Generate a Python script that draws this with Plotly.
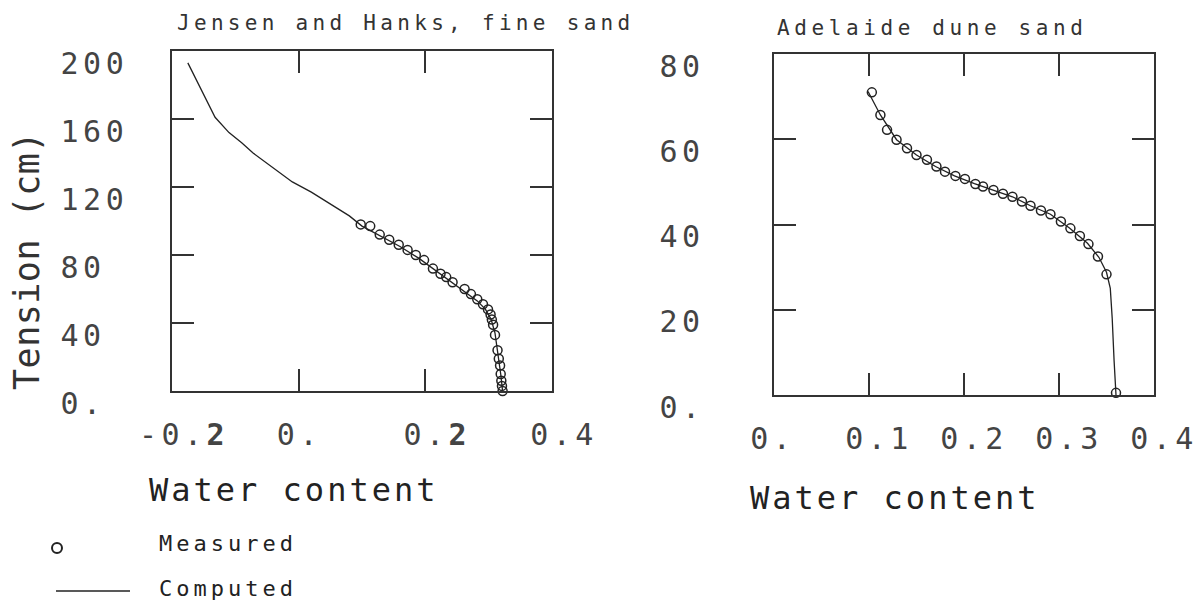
import plotly.graph_objects as go

# ---------------- data ----------------
# Jensen and Hanks, fine sand
jh_meas_theta = [0.098, 0.113, 0.128, 0.143, 0.158, 0.172, 0.185, 0.198, 0.212, 0.224,
                 0.233, 0.243, 0.262, 0.272, 0.282, 0.291, 0.299, 0.303, 0.305, 0.307,
                 0.310, 0.314, 0.316, 0.318, 0.319, 0.320, 0.321, 0.322]
jh_meas_h = [98, 97, 92, 89, 86, 83, 80, 77, 72, 69,
             67, 64, 60, 57, 54, 51, 48, 45, 42, 39,
             33, 24, 19, 15, 10, 6, 3, 0]
jh_comp_theta = [-0.175, -0.160, -0.145, -0.132, -0.110, -0.090, -0.072, -0.040, -0.010,
                 0.020, 0.050, 0.080, 0.100, 0.130, 0.160, 0.190, 0.220, 0.245, 0.265,
                 0.282, 0.295, 0.304, 0.310, 0.315, 0.319, 0.322]
jh_comp_h = [193, 182, 171, 161, 152, 146, 140, 131, 123,
             117, 110, 103, 97, 91, 85, 78, 70, 63, 58,
             53, 48, 42, 34, 22, 10, 0]

# Adelaide dune sand
ad_meas_theta = [0.103, 0.112, 0.119, 0.129, 0.140, 0.150, 0.161, 0.171, 0.180, 0.191,
                 0.201, 0.212, 0.220, 0.231, 0.241, 0.251, 0.261, 0.270, 0.281, 0.291,
                 0.302, 0.312, 0.322, 0.331, 0.341, 0.350, 0.360]
ad_meas_h = [71.0, 65.7, 62.2, 59.9, 57.9, 56.3, 55.2, 53.6, 52.4, 51.4,
             50.7, 49.5, 48.9, 48.1, 47.2, 46.5, 45.4, 44.4, 43.3, 42.4,
             40.7, 39.1, 37.3, 35.4, 32.5, 28.3, 0.5]
ad_comp_theta = [0.099, 0.112, 0.129, 0.150, 0.170, 0.190, 0.211, 0.231, 0.251, 0.270,
                 0.291, 0.311, 0.330, 0.342, 0.350, 0.354, 0.356, 0.358, 0.360]
ad_comp_h = [71.2, 65.7, 59.9, 56.3, 53.6, 51.4, 49.6, 48.1, 46.5, 44.4,
             42.4, 39.2, 35.6, 32.3, 28.8, 25.0, 18.0, 8.0, 0.0]

jh_xticks = [-0.2, 0.0, 0.2, 0.4]
jh_xlabels = ["-0.<b>2</b>", "0.\u00a0", "0.<b>2</b>", "0.4"]
jh_yticks = [0, 40, 80, 120, 160, 200]
jh_ylabels = ["0.\u00a0", "40\u00a0", "80\u00a0", "120", "160", "200"]
ad_xticks = [0.0, 0.1, 0.2, 0.3, 0.4]
ad_xlabels = ["0.\u00a0", "0.1", "0.2", "0.3", "0.4"]
ad_yticks = [0, 20, 40, 60, 80]
ad_ylabels = ["0.\u00a0", "20\u00a0", "40\u00a0", "60\u00a0", "80\u00a0"]

titles = ["Jensen and Hanks, fine sand", "Adelaide dune sand"]
xtitle = "Water content"
ytitle = "Tension (cm)"
legend_labels = ["Measured", "Computed"]

# ---------------- styling ----------------
W, H = 1204, 600
MONO = "DejaVu Sans Mono"
INK = "#222"


def sp(text, px):
    return '<span style="letter-spacing:%spx">%s</span>' % (px, text)


def px(x):
    return x / W


def py(y):
    return 1 - y / H


fig = go.Figure()

line_style = dict(color=INK, width=1.3)
marker_style = dict(symbol="circle-open", size=9, color=INK, line=dict(width=1.5, color=INK))

fig.add_trace(go.Scatter(x=jh_comp_theta, y=jh_comp_h, mode="lines", line=line_style,
                         xaxis="x", yaxis="y", showlegend=False, name="Computed"))
fig.add_trace(go.Scatter(x=jh_meas_theta, y=jh_meas_h, mode="markers", marker=marker_style,
                         xaxis="x", yaxis="y", showlegend=False, name="Measured", cliponaxis=False))
fig.add_trace(go.Scatter(x=ad_comp_theta, y=ad_comp_h, mode="lines", line=line_style,
                         xaxis="x2", yaxis="y2", showlegend=False, name="Computed"))
fig.add_trace(go.Scatter(x=ad_meas_theta, y=ad_meas_h, mode="markers", marker=marker_style,
                         xaxis="x2", yaxis="y2", showlegend=False, name="Measured", cliponaxis=False))

tickfont = dict(family=MONO, size=30, color="#444")
axis_common = dict(showline=True, linecolor="#333", linewidth=1.5, mirror="ticks",
                   ticks="inside", ticklen=22, tickwidth=1.5, tickcolor="#333",
                   showgrid=False, zeroline=False, tickfont=tickfont, automargin=False,
                   tickmode="array")

fig.update_layout(
    width=W, height=H,
    margin=dict(l=0, r=0, t=0, b=0),
    paper_bgcolor="white", plot_bgcolor="white",
    showlegend=False,
    xaxis=dict(axis_common, domain=[px(172), px(552)], range=[-0.2, 0.4], anchor="y",
               tickvals=jh_xticks, ticktext=[sp(t, 4.5) for t in jh_xlabels],
               ticklabelshift=12, ticklabelstandoff=16),
    yaxis=dict(axis_common, domain=[py(391), py(51)], range=[0, 200], anchor="x",
               tickvals=jh_yticks, ticktext=[sp(t, 4.5) for t in jh_ylabels],
               ticklabelshift=12, ticklabelstandoff=36),
    xaxis2=dict(axis_common, domain=[px(774), px(1154)], range=[0, 0.4], anchor="y2",
                tickvals=ad_xticks, ticktext=[sp(t, 4.5) for t in ad_xlabels],
                ticklabelshift=10, ticklabelstandoff=16),
    yaxis2=dict(axis_common, domain=[py(395), py(54)], range=[0, 80], anchor="x2",
                tickvals=ad_yticks, ticktext=[sp(t, 4.5) for t in ad_ylabels],
                ticklabelshift=12, ticklabelstandoff=39),
)

ann = []
# panel titles
ann.append(dict(text=sp(titles[0], 4.3), x=px(175), y=py(23), xref="paper", yref="paper",
                xanchor="left", yanchor="middle", showarrow=False,
                font=dict(family=MONO, size=21, color="#333")))
ann.append(dict(text=sp(titles[1], 4.6), x=px(775), y=py(28), xref="paper", yref="paper",
                xanchor="left", yanchor="middle", showarrow=False,
                font=dict(family=MONO, size=21, color="#333")))
# axis titles
ann.append(dict(text=sp(xtitle, 3), x=px(147), y=py(490), xref="paper", yref="paper",
                xanchor="left", yanchor="middle", showarrow=False,
                font=dict(family=MONO, size=32, color=INK)))
ann.append(dict(text=sp(xtitle, 3), x=px(748), y=py(498), xref="paper", yref="paper",
                xanchor="left", yanchor="middle", showarrow=False,
                font=dict(family=MONO, size=32, color=INK)))
ann.append(dict(text=sp(ytitle, 0.5), x=px(27), y=py(261), xref="paper", yref="paper",
                xanchor="center", yanchor="middle", textangle=-90, showarrow=False,
                font=dict(family=MONO, size=35, color="#333")))
# legend
ann.append(dict(text=sp(legend_labels[0], 4), x=px(157), y=py(543), xref="paper", yref="paper",
                xanchor="left", yanchor="middle", showarrow=False,
                font=dict(family=MONO, size=22, color=INK)))
ann.append(dict(text=sp(legend_labels[1], 4), x=px(157), y=py(588), xref="paper", yref="paper",
                xanchor="left", yanchor="middle", showarrow=False,
                font=dict(family=MONO, size=22, color=INK)))
fig.update_layout(annotations=ann)

fig.update_layout(shapes=[
    dict(type="circle", xref="paper", yref="paper", x0=px(52), x1=px(62), y0=py(553), y1=py(543),
         line=dict(color=INK, width=2)),
    dict(type="line", xref="paper", yref="paper", x0=px(56), x1=px(130), y0=py(591), y1=py(591),
         line=dict(color=INK, width=1.5)),
])

fig.write_html("out.html")
